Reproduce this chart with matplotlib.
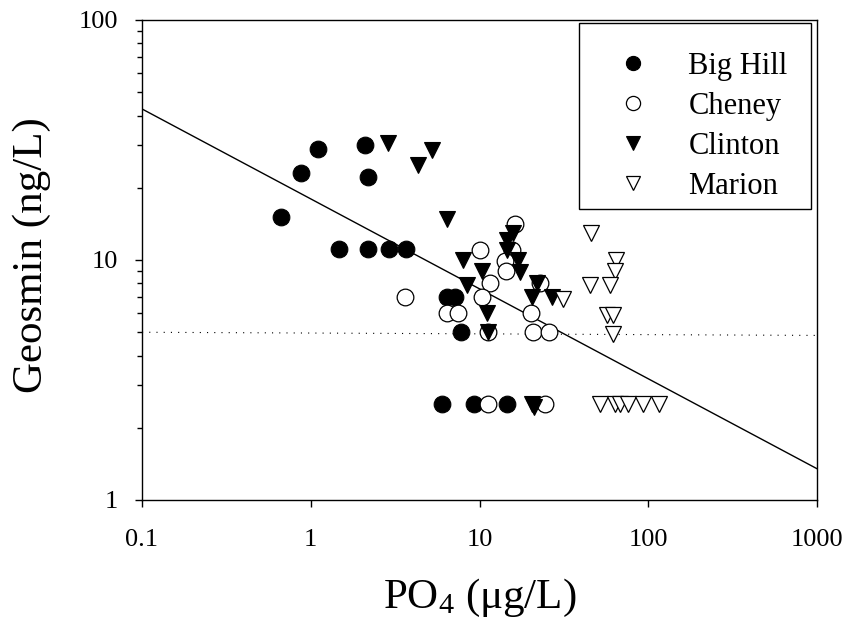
import matplotlib
matplotlib.use("Agg")
import matplotlib.pyplot as plt
from matplotlib.patches import Rectangle
from matplotlib.ticker import FixedLocator, FixedFormatter, NullLocator, LogLocator

plt.rcParams['font.family'] = ['Liberation Serif', 'DejaVu Serif']
plt.rcParams['mathtext.fontset'] = 'custom'
plt.rcParams['mathtext.rm'] = 'Liberation Serif'
plt.rcParams['mathtext.it'] = 'Liberation Serif:italic'

# ---- data ----
bighill_x = [0.67, 0.875, 1.10, 2.09, 2.18, 1.47, 2.18, 2.91, 3.67, 6.4, 7.16, 7.74, 5.97, 9.27, 14.6]
bighill_y = [15.1, 23.1, 29.0, 30.1, 22.2, 11.1, 11.1, 11.1, 11.1, 7.0, 7.0, 5.0, 2.5, 2.5, 2.5]

cheney_x = [16.2, 10.07, 15.5, 14.2, 14.3, 11.6, 22.9, 3.62, 10.3, 6.4, 7.5, 20.1, 11.3, 20.8, 25.9, 11.3, 24.4]
cheney_y = [14.1, 11.0, 11.0, 9.9, 9.0, 8.0, 8.0, 7.0, 7.0, 6.0, 6.0, 6.0, 5.0, 5.0, 5.0, 2.5, 2.5]

clinton_x = [2.88, 5.21, 4.33, 6.4, 14.5, 15.9, 14.5, 17.0, 17.4, 8.0, 10.4, 8.4, 21.8, 20.6, 26.8, 11.1, 11.3, 20.4, 21.0]
clinton_y = [30.6, 28.7, 24.9, 14.8, 12.1, 12.9, 11.0, 10.0, 8.9, 10.0, 9.0, 7.9, 8.0, 7.0, 7.0, 6.0, 5.0, 2.5, 2.45]

marion_x = [45.6, 64.4, 63.5, 45.2, 59.3, 57.2, 61.5, 62.1, 31.4, 51.8, 63.5, 68.0, 75.9, 93.1, 115.9]
marion_y = [12.9, 10.0, 9.0, 7.9, 7.9, 5.9, 5.9, 4.9, 6.9, 2.5, 2.5, 2.5, 2.5, 2.5, 2.5]

reg_x = [0.1, 1000]
reg_y = [42.6, 1.35]

thr_x = [0.1, 1000]
thr_y = [5.0, 4.85]

x_ticks = [0.1, 1, 10, 100, 1000]
x_ticklabels = ['0.1', '1', '10', '100', '1000']
y_ticks = [1, 10, 100]
y_ticklabels = ['1', '10', '100']

# ---- figure ----
W, H = 851, 634
fig = plt.figure(figsize=(W / 100, H / 100), dpi=100)
ax = fig.add_axes([142 / W, 1 - 500 / H, 675 / W, 480 / H])
ax.set_xscale('log')
ax.set_yscale('log')
ax.set_xlim(0.1, 1000)
ax.set_ylim(1, 100)

ax.plot(thr_x, thr_y, color='black', lw=0.8, linestyle=(0, (1, 5.5)), zorder=1)
ax.plot(reg_x, reg_y, color='black', lw=1.0, zorder=1)

ms = 12
ax.plot(bighill_x, bighill_y, 'o', ms=ms, mfc='black', mec='black', mew=0.8, zorder=2, label='Big Hill')
ax.plot(cheney_x, cheney_y, 'o', ms=ms, mfc='white', mec='black', mew=0.9, zorder=3, label='Cheney')
ax.plot(clinton_x, clinton_y, 'v', ms=ms, mfc='black', mec='black', mew=0.8, zorder=4, label='Clinton')
ax.plot(marion_x, marion_y, 'v', ms=ms, mfc='white', mec='black', mew=0.9, zorder=5, label='Marion')

ax.xaxis.set_major_locator(FixedLocator(x_ticks))
ax.xaxis.set_major_formatter(FixedFormatter(x_ticklabels))
ax.xaxis.set_minor_locator(NullLocator())
ax.yaxis.set_major_locator(FixedLocator(y_ticks))
ax.yaxis.set_major_formatter(FixedFormatter(y_ticklabels))
ax.yaxis.set_minor_locator(LogLocator(base=10, subs=range(2, 10)))
ax.yaxis.set_minor_formatter(FixedFormatter([]))

ax.tick_params(axis='both', which='major', direction='out', length=5, width=1.0,
               labelsize=19, top=False, right=False, colors='black')
ax.tick_params(axis='x', which='major', pad=16)
ax.tick_params(axis='y', which='major', pad=12)
ax.tick_params(axis='y', which='minor', direction='out', length=3.5, width=1.0, right=False)
for s in ax.spines.values():
    s.set_linewidth(1.0)
    s.set_color('black')

# legend frame box, drawn separately
frame = Rectangle((579 / W, 1 - 209 / H), (811 - 579) / W, (209 - 23) / H,
                  transform=fig.transFigure, fill=True, facecolor='white',
                  edgecolor='black', lw=1.0, zorder=8, clip_on=False)
ax.add_patch(frame)

# legend entries without their own frame
leg = ax.legend(loc='upper left', bbox_to_anchor=(602 / W, 1 - 52 / H),
                bbox_transform=fig.transFigure, fontsize=22, frameon=False,
                borderpad=0, handlelength=2.0, handletextpad=0.83, labelspacing=0.36,
                markerscale=0.85, borderaxespad=0)
leg.set_zorder(10)

fig.text(32 / W, 1 - 255 / H, 'Geosmin (ng/L)', rotation=90, ha='center', va='center', fontsize=31)
fig.text(480 / W, 1 - 598 / H, 'PO$_4$ (μg/L)', ha='center', va='center', fontsize=31)

fig.savefig('out.png', dpi=100)
